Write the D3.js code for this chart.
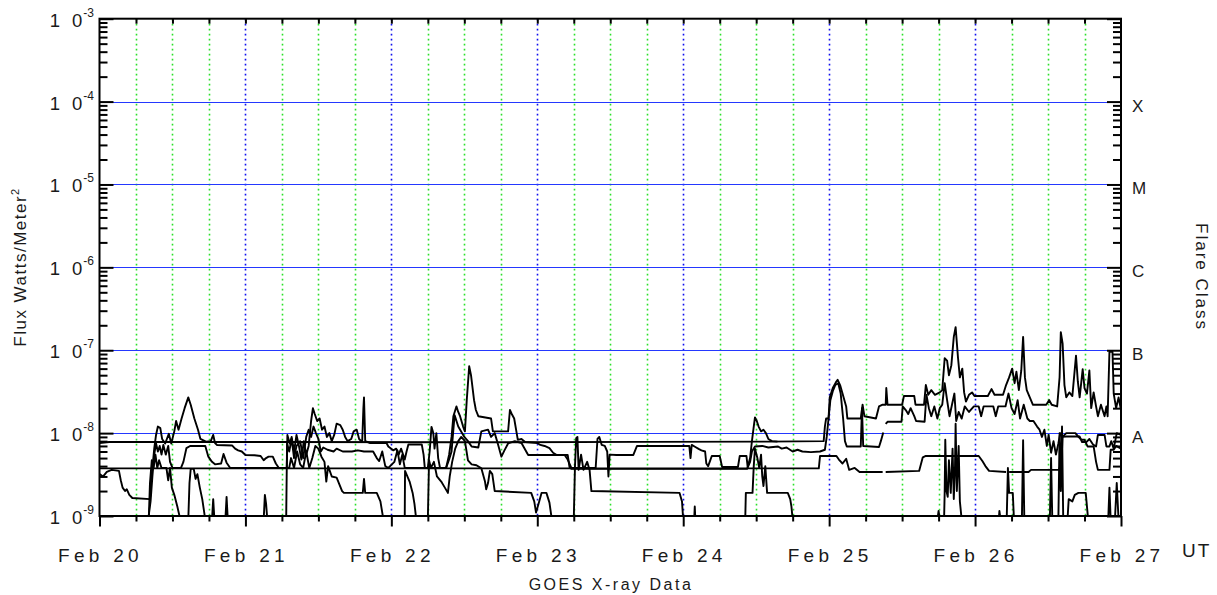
<!DOCTYPE html>
<html lang="en">
<head>
<meta charset="utf-8">
<title>GOES X-ray Data</title>
<style>
  body { margin: 0; background: #fff; }
  svg text { font-family: "Liberation Sans", Arial, sans-serif; fill: #1a1a1a; }
  .data { fill: none; stroke: #000; stroke-width: 1.9px; stroke-linejoin: round; }
</style>
</head>
<body>
<div id="chart"></div>
<script src="https://d3js.org/d3.v7.min.js"></script>
<script>
// time = hours after Feb 20 00:00 UT, flux in units of 1e-9 W/m^2 (null = data gap)
var dayLabels = ["Feb 20", "Feb 21", "Feb 22", "Feb 23", "Feb 24", "Feb 25", "Feb 26", "Feb 27"];
var yExponents = [-3, -4, -5, -6, -7, -8, -9];
var classLabels = ["X", "M", "C", "B", "A"];
var classLevels = [1e-4, 1e-5, 1e-6, 1e-7, 1e-8];

var longA = [[0,7.6],[0.8,7.7],[1.6,7.8],[30,7.8],[60,7.75],[90,7.85],[110,7.9],[119.1,8.0],
  [119.3,12],[119.5,15],[119.9,15],[120.1,27],[120.6,35],[121.1,41],[121.4,44],[121.8,38],[122.2,30],[122.8,21],[123.0,15],
  [125.2,15],[125.5,22],[125.8,16],[127.7,15],[128.2,21],[128.8,22],[129.3,22],[129.4,35],[129.6,22],[132.0,22],[132.3,28],
  [134.0,28],[134.2,22],[135.6,22],[135.9,38],[136.3,29],[136.8,33],[137.4,29],[138.2,31],[138.6,33],[139.0,80],[139.4,75],
  [139.7,50],[140.1,66],[140.5,145],[140.8,190],[141.2,80],[141.5,47],[141.9,60],[142.2,31],[142.5,24],[143.0,29],[143.5,31],
  [143.9,28],[146.1,28],[146.7,34],[147.2,29],[148.6,29],[149.1,38],[149.6,47],[150.1,60],[150.5,40],[150.8,55],[151.2,33],
  [151.6,57],[151.9,145],[152.2,47],[152.5,33],[153.0,27],[153.5,22],[155.7,22],[156.2,25],[156.6,22],[157.5,21],[157.9,47],
  [158.1,165],[158.4,120],[158.7,38],[159.0,27],[159.5,31],[160.0,28],[160.6,86],[160.9,42],[161.2,27],[161.7,59],[162.0,35],
  [162.4,30],[162.8,57],[163.1,20],[163.5,31],[163.9,21],[164.2,16],[164.7,22],[165.3,16],[165.6,21],[165.8,16],[166.1,96],
  [166.6,96],[166.8,30],[167.2,20],[167.6,27],[168,19]];

var shortA = [[0,3.75],[60,3.75],[118.3,3.75],[118.5,5.3],[121.2,5.3],[121.6,4.8],[122.2,4.3],[122.8,4.9],[123.3,3.6],
  [124.2,3.8],[125.0,3.4],[128.8,3.4],[128.9,null],[129.3,3.4],[134.8,3.5],[135.4,5.1],[135.9,5.3],[144.6,5.3],[145.2,4.6],
  [145.7,4.0],[146.3,3.5],[149.1,3.4],[149.2,null],[149.6,3.4],[152.8,3.4],[153.2,3.6],[157.8,3.6],[158.2,4.5],[158.4,9],
  [159.0,10],[160.5,10],[161.0,9],[161.5,8.3],[162.0,8.3],[162.5,6.9],[163.5,6.9],[163.9,4.5],[164.2,3.6],[166.1,3.6],
  [166.3,6.3],[166.8,6.3],[167.2,7],[168,6.5]];

var longB = [[0,3.2],[0.6,3.0],[1.2,3.4],[2.0,3.6],[3.2,3.5],[3.5,2.7],[3.8,2.2],[4.2,2.0],[4.5,2.1],[4.9,1.8],[5.4,1.65],
  [8.3,1.6],[8.5,2.7],[8.8,4.5],[9.0,6.5],[9.3,9.5],[9.6,12],[10.0,11.5],[10.3,8.5],[10.8,7.5],[11.4,9.8],[11.8,7.5],
  [12.3,10.5],[12.6,14],[13.0,11],[13.5,15],[14.0,20],[14.6,27],[15.0,22],[15.6,15],[16.2,11],[16.6,8.5],[17.5,7.9],
  [18.3,8.0],[18.7,9.5],[19.0,7.6],[19.3,7.2],[21.8,7.1],[22.3,6.5],[22.8,6.2],[23.4,6.0],[24.0,5.45],[25.5,5.4],[26.5,5.3],
  [27.0,4.7],[27.4,5.0],[27.8,5.2],[28.5,5.2],[29.0,4.3],[29.5,3.8],[30.8,3.8],[30.9,9.5],[31.3,7.5],[31.6,9.0],[32.0,6.0],
  [32.4,9.5],[32.8,7.0],[33.2,4.8],[33.6,8.0],[34.0,5.5],[34.4,7.0],[34.8,14],[35.1,20],[35.4,17],[35.8,14],[36.2,15],
  [36.6,11],[37.0,12],[37.4,9],[37.8,10],[38.2,8],[38.6,9.5],[39.0,13],[39.6,12.5],[40.0,11],[40.4,9],[40.8,8.0],[41.4,8.5],
  [41.8,10.5],[42.3,11],[42.7,8.5],[43.2,7.8],[43.4,20],[43.5,27],[43.7,8],[44.5,7.6],[47.2,7.6],[47.5,6.9],[48.3,6.2],
  [48.8,6.5],[49.2,5.5],[49.6,6.5],[50.2,4.8],[50.5,6],[50.8,7.3],[53.0,7.3],[53.3,5.5],[53.5,3.8],[54.0,3.8],[54.3,6],
  [54.6,11.9],[54.9,10],[55.1,6.5],[55.4,10],[55.7,5],[56.0,3.8],[57.0,3.8],[57.5,5.5],[57.9,9],[58.2,16],[58.7,21],
  [59.0,18],[59.3,16],[59.8,12],[60.1,10.5],[60.4,25],[60.8,64],[61.1,50],[61.6,25],[61.9,19],[62.3,16],[64.4,15],
  [64.7,10.5],[67.2,10.5],[67.5,19],[67.8,17],[68.2,15],[68.8,8.3],[69.4,8.5],[70.0,7.8],[72.0,7.6],[72.5,7.2],[73.2,7.0],
  [74.0,6.6],[74.6,5.8],[75.2,5.45],[76.5,5.45],[77.0,4.8],[77.6,3.8],[81.6,3.8],[81.9,8.5],[82.2,9.0],[82.6,7.2],[83.1,7.0],
  [83.5,6.0],[83.7,3.0],[83.9,5.5],[85,5.45],[87.8,5.45],[88.4,7.0],[97.0,7.0],[97.2,5.0],[97.4,7.2],[98.0,6.8],[98.6,6.4],
  [99.0,6.2],[99.6,6.0],[99.8,4.3],[100.1,4.0],[100.4,4.6],[100.7,5.3],[102.0,5.3],[102.4,3.9],[105.0,3.9],[105.3,5.3],
  [106.4,5.3],[106.6,3.9],[107.0,5],[107.3,8],[107.6,12],[107.8,15.5],[108.1,14],[108.4,12],[108.8,10.5],[109.2,11],
  [109.6,10],[110.0,8.5],[110.6,8.0],[111.5,7.9]];

var longC = [[8.0,0.9],[8.4,1.5],[8.7,3],[9.0,5.5],[9.3,7.5],[9.6,6],[9.9,7],[10.2,5.5],[10.5,7.2],[10.9,5.5],[11.3,7],
  [11.6,4.5],[12.0,3.8],[13.4,3.8],[13.8,4.5],[14.3,6.6],[14.9,7.0],[17.4,7.0],[17.9,5.2],[18.5,4.5],[19.0,4.2],[20.0,4.3],
  [20.4,5.6],[20.9,4.4],[21.5,3.8],[30.8,3.8],[30.85,7.5],[31.2,6],[31.6,8.5],[32,5],[32.4,7],[33,8],[33.5,5],[34,9],
  [34.4,11],[34.8,9],[35.2,12],[35.6,10],[36,8.5],[36.4,6],[36.8,6.7],[37.5,6.3],[38.5,6.0],[39,6.5],[40,6.0],[41.5,6.0],
  [42.5,6.2],[43.5,6.0],[45,6.0],[45.6,5.0],[46,4.6],[46.5,6.0],[47,4.0],[47.5,3.8],[48.5,4.5],[49,6.2],[49.4,4.2],
  [49.8,5.5],[50.2,3.8],[57.0,3.8],[57.5,4.8],[57.9,6],[58.4,16.5],[59,12],[60,9],[60.6,8],[61.2,6.9],[62.3,6.7],
  [62.8,10.5],[63.9,11],[64.4,9],[65,10],[65.5,7.5],[66.1,5.2],[66.6,6.2],[67.2,7.5],[68.3,8],[69.4,7.6],[70.5,5.45],
  [77.0,5.45],[77.3,3.9],[77.6,3.7],[106.5,3.7],[107.0,4.5],[107.3,6.0],[107.8,6.9],[109,7.0],[110,6.7],[111.6,6.9],
  [112.2,6.5],[113,6.7],[114,6.0],[114.8,6.3],[115.6,6.0],[117,5.9],[118.5,6.0],[119.3,6.3],[119.6,9],[119.9,15],
  [120.2,25],[120.6,32],[121.0,38],[121.5,40],[121.9,30],[122.3,15],[122.6,8],[122.9,6.9],[125.2,6.9],[125.4,20],
  [125.6,7.0],[128.2,6.8],[128.5,8],[128.9,10.2],[129.1,null],[129.3,12.9],[129.6,13.7],[131.9,13.7],[132.1,21],
  [132.6,19],[133.0,17],[133.4,20],[134.0,16],[134.3,14],[135.7,13.7],[136.0,29],[136.4,20],[136.8,16],[137.3,21],
  [137.8,15],[138.2,20],[138.6,22],[139.0,40],[139.4,25],[139.8,16],[140.2,22],[140.6,30],[140.9,14],[141.3,18],
  [141.8,15],[142.3,21],[143.0,18],[143.8,21],[144.6,21],[145.0,16],[145.4,21],[147.0,21],[147.4,16],[147.8,21],
  [149.0,21],[149.5,30],[150.0,20],[150.5,17],[151.0,25],[151.4,15],[152.0,22],[152.6,15],[153.0,14],[153.6,14],
  [154.2,12],[154.6,11],[155.0,9],[155.4,11],[155.8,7],[156.1,9.5],[156.5,5.8],[156.9,8],[157.3,5.5],[157.7,7.5],
  [158.0,10],[158.3,9],[159.0,9.1],[161.2,9.1],[161.6,7.8],[162.3,7.8],[162.8,8.5],[163.4,7.3],[163.9,6.9],[164.2,9.5],
  [165.3,9.5],[165.6,6.9],[166.1,6.9],[166.4,8],[166.8,6.5],[167.3,10],[168,9.5]];

var shortB = [[0,0.9],[8.1,0.9],[8.3,2.5],[8.6,4.7],[8.9,3.8],[9.2,5.5],[9.5,3.8],[9.8,4.7],[10.2,3.8],[11.0,3.8],
  [11.3,2.7],[11.6,3.8],[11.9,2.2],[12.3,1.8],[12.8,1.3],[13.3,0.9],[14.6,0.9],[14.8,2.5],[15.0,3.7],[15.5,3.7],[15.8,2.8],
  [16.1,3.2],[16.5,2.2],[16.9,1.6],[17.4,0.9],[18.5,0.9],[18.7,1.6],[18.9,0.9],[20.7,0.9],[20.9,1.7],[21.1,0.9],[27.0,0.9],
  [27.2,1.8],[27.4,1.4],[27.6,0.9],[30.7,0.9],[30.8,3.8],[31.2,3.8],[31.5,5],[32,3.8],[32.5,6],[33,4.2],[33.5,3.8],[34,6],
  [34.5,3.8],[35,5],[35.5,7],[36,6.5],[36.5,5.2],[37,4.5],[37.3,2.6],[37.6,4.0],[38.2,3.0],[39,2.9],[39.9,2.0],[40.2,1.9],
  [43.3,1.9],[43.5,2.8],[43.7,1.9],[45.6,1.9],[46.2,1.5],[46.7,0.9],[50.2,0.9],[50.25,3.5],[51.0,2.6],[51.5,1.9],[51.8,1.4],
  [52.1,0.9],[54.0,0.9],[54.2,4.7],[54.5,3.8],[55.0,4.5],[55.5,3.0],[56.2,2.6],[56.8,2.2],[57.3,1.9],[57.6,3.0],[58.0,4.5],
  [58.5,6.5],[59.0,8],[59.5,9],[60.1,8],[60.6,4.7],[61.2,4.2],[62.0,4.1],[62.8,3.76],[63.4,2.6],[63.6,2.1],[63.9,2.5],
  [64.2,3.5],[64.6,3.2],[65.0,2.0],[71.0,1.9],[71.5,1.5],[71.8,1.1],[72.2,1.4],[72.7,1.9],[73.5,1.9],[74.0,1.45],[74.4,0.9],
  [78.0,0.9],[78.2,4],[78.4,8.7],[78.6,9.0],[78.8,3.6],[79.2,5.5],[79.6,3.6],[80.2,4.5],[80.6,3.6],[80.9,2.0],[95.4,1.9],
  [95.8,1.5],[96.0,0.9],[97.8,0.9],[97.9,1.3],[98.0,0.9],[106.2,0.9],[106.3,1.9],[107.4,1.9],[107.6,4],[107.8,6.5],
  [108.2,5],[108.5,3.8],[108.8,5.5],[109.0,3.0],[109.2,2.3],[109.5,4],[109.8,1.9],[113.2,1.9],[113.6,1.6],[113.8,1.3],
  [114.0,0.9],[137.8,0.9],[138.0,1.15],[138.2,0.9],[138.9,0.9],[139.0,1.9],[139.1,8.3],[139.3,2],[139.5,1.7],[139.7,4.7],
  [140.0,1.9],[140.3,6.5],[140.5,1.6],[140.7,4],[140.8,13],[141.0,2.0],[141.3,7],[141.5,1.5],[141.8,0.9],[147.9,0.9],
  [148.0,1.15],[148.2,0.9],[149.2,0.9],[149.4,3.8],[149.6,1.9],[150.2,1.9],[150.4,0.9],[151.7,0.9],[151.9,8.2],[152.1,0.9],
  [156.3,0.9],[156.5,5],[156.7,0.9],[157.7,0.9],[157.9,10],[158.1,2],[158.3,12],[158.5,0.9],[159.2,0.9],[159.4,1.6],
  [160.0,1.5],[160.4,1.8],[161.0,1.9],[162.2,1.9],[162.6,0.9],[165.9,0.9],[166.1,2.2],[166.3,0.9],[167.0,0.9],[167.3,2.5],
  [167.6,0.9],[168,0.9]];

var allSeries = [shortA, longA, longC, longB, shortB];

var width = 1217, height = 595;
var plotLeft = 99.5, plotRight = 1121, plotTop = 18.7, plotBottom = 516;

var svg = d3.select("#chart").append("svg")
    .attr("width", width)
    .attr("height", height);

var x = d3.scaleLinear().domain([0, 168]).range([plotLeft, plotRight]);
var y = d3.scaleLog().domain([1e-9, 1e-3]).range([plotBottom, plotTop]);

// 6-hour grid, day boundaries blue
var gridHours = d3.range(6, 168, 6);
svg.append("g").selectAll("line")
    .data(gridHours)
  .enter().append("line")
    .attr("x1", function(d) { return Math.round(x(d)) + 0.5; })
    .attr("x2", function(d) { return Math.round(x(d)) + 0.5; })
    .attr("y1", plotTop)
    .attr("y2", plotBottom)
    .attr("stroke", function(d) { return d % 24 === 0 ? "#1010ee" : "#2be02b"; })
    .attr("stroke-width", 1.6)
    .attr("stroke-dasharray", "1.8,3.2");

// flare class lines
svg.append("g").selectAll("line")
    .data(classLevels)
  .enter().append("line")
    .attr("x1", plotLeft)
    .attr("x2", plotRight)
    .attr("y1", function(d) { return Math.round(y(d)) + 0.5; })
    .attr("y2", function(d) { return Math.round(y(d)) + 0.5; })
    .attr("stroke", "#2438ff")
    .attr("stroke-width", 1);

svg.append("clipPath").attr("id", "plotclip")
  .append("rect")
    .attr("x", plotLeft).attr("y", plotTop)
    .attr("width", plotRight - plotLeft).attr("height", plotBottom - plotTop);

var line = d3.line()
    .defined(function(d) { return d[1] != null; })
    .x(function(d) { return x(d[0]); })
    .y(function(d) { return y(d[1] * 1e-9); });

svg.append("g").attr("clip-path", "url(#plotclip)")
  .selectAll("path")
    .data(allSeries)
  .enter().append("path")
    .attr("class", "data")
    .attr("d", line);

// log ticks on both sides
var majorVals = yExponents.map(function(e) { return Math.pow(10, e); });
var minorVals = [];
d3.range(-9, -3).forEach(function(e) {
  d3.range(2, 10).forEach(function(m) { minorVals.push(m * Math.pow(10, e)); });
});

function yTicks(g, axisFn, vals, size) {
  g.call(axisFn(y).tickValues(vals).tickSize(-size).tickFormat(""))
   .call(function(s) { s.select(".domain").remove(); })
   .selectAll("line").attr("stroke", "#000").attr("stroke-width", 2);
}
svg.append("g").attr("transform", "translate(" + plotLeft + ",0)").call(yTicks, d3.axisLeft, minorVals, 8);
svg.append("g").attr("transform", "translate(" + plotLeft + ",0)").call(yTicks, d3.axisLeft, majorVals, 14);
svg.append("g").attr("transform", "translate(" + plotRight + ",0)").call(yTicks, d3.axisRight, minorVals, 8);
svg.append("g").attr("transform", "translate(" + plotRight + ",0)").call(yTicks, d3.axisRight, majorVals, 14);

// time ticks
var dayHours = d3.range(0, 169, 24);
var quarterHours = gridHours.filter(function(h) { return h % 24 !== 0; });
function xTicks(g, vals, size) {
  g.call(d3.axisBottom(x).tickValues(vals).tickSize(size).tickFormat(""))
   .call(function(s) { s.select(".domain").remove(); })
   .selectAll("line").attr("stroke", "#000").attr("stroke-width", 2);
}
svg.append("g").attr("transform", "translate(0," + plotBottom + ")").call(xTicks, quarterHours, 5.5);
svg.append("g").attr("transform", "translate(0," + plotBottom + ")").call(xTicks, dayHours, 10.5);
svg.append("g").attr("transform", "translate(0," + plotTop + ")").call(xTicks, gridHours, 5);

// frame
svg.append("rect")
    .attr("x", plotLeft).attr("y", plotTop)
    .attr("width", plotRight - plotLeft).attr("height", plotBottom - plotTop)
    .attr("fill", "none")
    .attr("stroke", "#000")
    .attr("stroke-width", 2);

// y labels 10^n
svg.append("g").selectAll("text")
    .data(yExponents)
  .enter().append("text")
    .attr("x", 94)
    .attr("y", function(d) { return y(Math.pow(10, d)) + 8; })
    .attr("text-anchor", "end")
    .attr("font-size", 18.5)
    .each(function(d) {
      var t = d3.select(this);
      t.append("tspan").text("1");
      t.append("tspan").attr("dx", 12).text("0");
      t.append("tspan").attr("dx", 1).attr("dy", -10).attr("font-size", 12).text(d);
    });

// day labels
svg.append("g").selectAll("text")
    .data(dayLabels)
  .enter().append("text")
    .attr("x", function(d, i) { return x(i * 24) + 1; })
    .attr("y", 562)
    .attr("text-anchor", "middle")
    .attr("font-size", 19)
    .attr("letter-spacing", 4.3)
    .text(function(d) { return d; });

svg.append("text")
    .attr("x", 1182).attr("y", 557)
    .attr("font-size", 19)
    .attr("letter-spacing", 2)
    .text("UT");

svg.append("text")
    .attr("x", 611).attr("y", 590)
    .attr("text-anchor", "middle")
    .attr("font-size", 16)
    .attr("letter-spacing", 2.5)
    .text("GOES X-ray Data");

// flare classes
svg.append("g").selectAll("text")
    .data(classLabels)
  .enter().append("text")
    .attr("x", 1132)
    .attr("y", function(d, i) { return y(classLevels[i]) + 10; })
    .attr("font-size", 17)
    .text(function(d) { return d; });

var yTitle = svg.append("text")
    .attr("transform", "translate(26,267) rotate(-90)")
    .attr("text-anchor", "middle")
    .attr("font-size", 17)
    .attr("letter-spacing", 1.5);
yTitle.append("tspan").text("Flux Watts/Meter");
yTitle.append("tspan").attr("dy", -7).attr("font-size", 11).text("2");

svg.append("text")
    .attr("transform", "translate(1196,277) rotate(90)")
    .attr("text-anchor", "middle")
    .attr("font-size", 17)
    .attr("letter-spacing", 2)
    .text("Flare Class");
</script>
</body>
</html>
